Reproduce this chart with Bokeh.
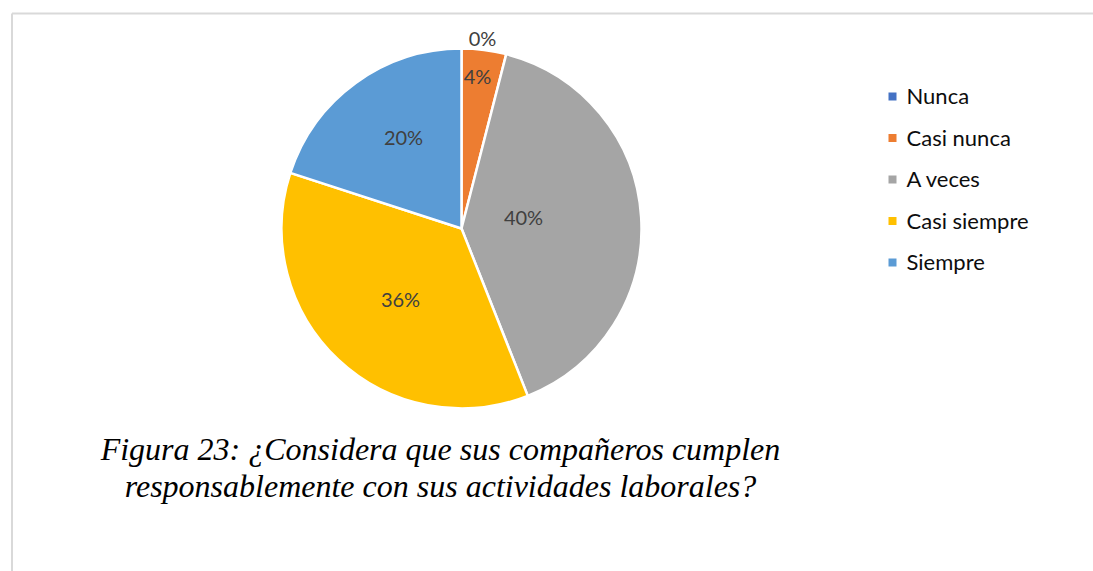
import numpy as np
from bokeh.plotting import figure
from bokeh.models import Range1d, ColumnDataSource
from bokeh.core.properties import value
from bokeh.embed import file_html
from bokeh.resources import INLINE

# ---- data ----
categories = ["Nunca", "Casi nunca", "A veces", "Casi siempre", "Siempre"]
percent = [0, 4, 40, 36, 20]
colors = ["#4472C4", "#ED7D31", "#A5A5A5", "#FFC000", "#5B9BD5"]
title_lines = ["Figura 23: ¿Considera que sus compañeros cumplen",
               "responsablemente con sus actividades laborales?"]

W, H = 1093, 571


def sx(x):  # screen x -> data x
    return x


def sy(y):  # screen y -> data y
    return H - y


p = figure(width=W, height=H, output_backend="svg", toolbar_location=None,
           x_range=Range1d(0, W), y_range=Range1d(0, H), min_border=0)
p.axis.visible = False
p.grid.visible = False
p.outline_line_color = None
p.background_fill_color = "white"

# frame border
p.segment(x0=[sx(11.5), sx(11.5)], y0=[sy(13), sy(13)], x1=[sx(11.5), sx(1100)], y1=[sy(600), sy(13)],
          line_color="#D9D9D9", line_width=2)

# pie
cx, cy = sx(461), sy(228)
frac = np.array(percent, dtype=float) / sum(percent)
cum = np.concatenate([[0], np.cumsum(frac)])
start = np.pi / 2 - 2 * np.pi * cum[:-1]
end = np.pi / 2 - 2 * np.pi * cum[1:]
src = ColumnDataSource(dict(start=start, end=end, color=colors, cat=categories))
p.wedge(x=cx, y=cy, radius=180, radius_units="screen", start_angle="start", end_angle="end",
        direction="clock", fill_color="color", line_color="white", line_width=2.5, source=src)

# data labels (offsets from pie centre, screen px)
lab_dx = [21, 16, 62, -61, -58]
lab_dy = [-191, -153, -12, 70, -92]
labels = [f"{v}%" for v in percent]
p.text(x=[cx + dx for dx in lab_dx], y=[cy - dy for dy in lab_dy], text=labels,
       text_font=value("Lato"), text_font_size="20px", text_color="#404040",
       text_align="center", text_baseline="middle")

# legend
leg_y = [sy(95), sy(136.5), sy(178), sy(219.5), sy(261)]
p.scatter(x=[sx(892)] * 5, y=[y - 1 for y in leg_y], marker="square", size=8,
          fill_color=colors, line_color=None)
p.text(x=[sx(906)] * 5, y=leg_y, text=categories, text_font=value("Lato"), text_font_size="22px",
       text_color="#0d0d0d", text_align="left", text_baseline="middle")

# caption
p.text(x=[sx(440)] * 2, y=[sy(448), sy(485)], text=title_lines,
       text_font=value("Liberation Serif"), text_font_style="italic", text_font_size="32px",
       text_color="#000000", text_align="center", text_baseline="alphabetic")

open("out.html", "w").write(file_html(p, INLINE))
